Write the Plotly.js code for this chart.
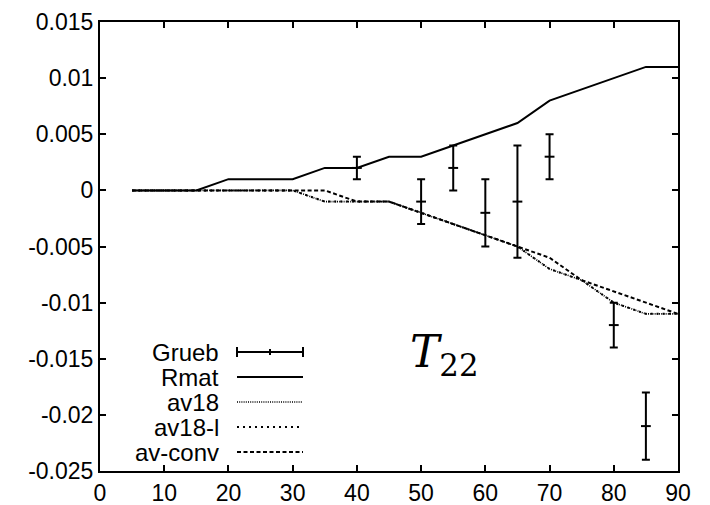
<!DOCTYPE html>
<html>
<head>
<meta charset="utf-8">
<script src="https://cdn.plot.ly/plotly-3.0.1.min.js"></script>
<style>html,body{margin:0;padding:0;background:#fff;}</style>
</head>
<body>
<div id="chart" style="width:710px;height:505px;"></div>
<script>
// Data
const gruebX = [40, 50, 55, 60, 65, 70, 80, 85];
const gruebY = [0.002, -0.001, 0.002, -0.002, -0.001, 0.003, -0.012, -0.021];
const gruebErr = [0.001, 0.002, 0.002, 0.003, 0.005, 0.002, 0.002, 0.003];

const rmatX = [5, 10, 15, 20, 25, 30, 35, 40, 45, 50, 55, 60, 65, 70, 75, 80, 85, 90];
const rmatY = [0, 0, 0, 0.001, 0.001, 0.001, 0.002, 0.002, 0.003, 0.003, 0.004, 0.005, 0.006, 0.008, 0.009, 0.010, 0.011, 0.011];

const av18X = [5, 10, 15, 20, 25, 30, 35, 40, 45, 50, 55, 60, 65, 70, 75, 80, 85, 90];
const av18Y = [0, 0, 0, 0, 0, 0, -0.001, -0.001, -0.001, -0.002, -0.003, -0.004, -0.005, -0.007, -0.008, -0.010, -0.011, -0.011];

const av18lX = [5, 10, 15, 20, 25, 30, 35, 40, 45, 50, 55, 60, 65, 70, 75, 80, 85, 90];
const av18lY = [0, 0, 0, 0, 0, 0, -0.001, -0.001, -0.001, -0.002, -0.003, -0.004, -0.005, -0.007, -0.008, -0.010, -0.011, -0.011];

const avconvX = [5, 10, 15, 20, 25, 30, 35, 40, 45, 50, 55, 60, 65, 70, 75, 80, 85, 90];
const avconvY = [0, 0, 0, 0, 0, 0, 0, -0.001, -0.001, -0.002, -0.003, -0.004, -0.005, -0.006, -0.008, -0.009, -0.010, -0.011];

const xTickVals = [0, 10, 20, 30, 40, 50, 60, 70, 80, 90];
const xTickText = ['0', '10', '20', '30', '40', '50', '60', '70', '80', '90'];
const yTickVals = [0.015, 0.01, 0.005, 0, -0.005, -0.01, -0.015, -0.02, -0.025];
const yTickText = ['0.015', '0.01', '0.005', '0', '-0.005', '-0.01', '-0.015', '-0.02', '-0.025'];

const legendNames = ['Grueb', 'Rmat', 'av18', 'av18-l', 'av-conv'];
const legendDash = [null, 'solid', '1px,1.2px', '2px,4px', '4px,2.5px'];
const legendWidth = [2, 2, 1.6, 2, 2];

const traces = [
  {x: rmatX, y: rmatY, mode: 'lines', name: 'Rmat', line: {color: '#000', width: 2, dash: 'solid'}},
  {x: av18X, y: av18Y, mode: 'lines', name: 'av18', line: {color: '#000', width: 1.6, dash: '1px,1.2px'}},
  {x: av18lX, y: av18lY, mode: 'lines', name: 'av18-l', line: {color: '#000', width: 2, dash: '2px,4px'}},
  {x: avconvX, y: avconvY, mode: 'lines', name: 'av-conv', line: {color: '#000', width: 2, dash: '4px,2.5px'}},
  {x: gruebX, y: gruebY, mode: 'markers', name: 'Grueb',
   marker: {symbol: 'line-ew', size: 7, color: '#000', line: {color: '#000', width: 2}},
   error_y: {type: 'data', array: gruebErr, visible: true, color: '#000', thickness: 2, width: 4}}
];

// custom legend (text right-aligned, key on the right, as in the reference)
const plotL = 100, plotR = 678, plotT = 22, plotB = 471;
const px2x = p => (p - plotL) / (plotR - plotL);
const py2y = p => (plotB - p) / (plotB - plotT);
const rows = [352, 377, 402, 427, 452];
const annotations = [];
const shapes = [];
legendNames.forEach((n, i) => {
  const yy = py2y(rows[i]);
  annotations.push({xref: 'paper', yref: 'paper', x: px2x(221), y: yy, text: n, showarrow: false,
    xanchor: 'right', yanchor: 'middle', font: {family: 'Liberation Sans, Arial, sans-serif', size: 24, color: '#000'}});
  if (i === 0) {
    shapes.push({type: 'line', xref: 'paper', yref: 'paper', x0: px2x(237), x1: px2x(303), y0: yy, y1: yy, line: {color: '#000', width: 2}});
    shapes.push({type: 'line', xref: 'paper', yref: 'paper', x0: px2x(237), x1: px2x(237), y0: py2y(rows[i] - 5), y1: py2y(rows[i] + 5), line: {color: '#000', width: 2}});
    shapes.push({type: 'line', xref: 'paper', yref: 'paper', x0: px2x(303), x1: px2x(303), y0: py2y(rows[i] - 5), y1: py2y(rows[i] + 5), line: {color: '#000', width: 2}});
    shapes.push({type: 'line', xref: 'paper', yref: 'paper', x0: px2x(270), x1: px2x(270), y0: py2y(rows[i] - 3), y1: py2y(rows[i] + 3), line: {color: '#000', width: 2}});
  } else {
    shapes.push({type: 'line', xref: 'paper', yref: 'paper', x0: px2x(237), x1: px2x(303), y0: yy, y1: yy,
      line: {color: '#000', width: legendWidth[i], dash: legendDash[i]}});
  }
});
annotations.push({xref: 'paper', yref: 'paper', x: px2x(444), y: py2y(354), text: '<i>T</i><sub>22</sub>',
  showarrow: false, xanchor: 'center', yanchor: 'middle',
  font: {family: 'DejaVu Serif, Liberation Serif, serif', size: 44, color: '#000'}});

const axisCommon = {
  showline: true, linecolor: '#000', linewidth: 2, mirror: 'ticks',
  ticks: 'inside', ticklen: 6, tickwidth: 2, tickcolor: '#000',
  showgrid: false, zeroline: false,
  tickfont: {family: 'Liberation Sans, Arial, sans-serif', size: 23, color: '#000'}
};

const layout = {
  width: 710, height: 505,
  margin: {l: plotL, r: 710 - plotR, t: plotT, b: 505 - plotB, pad: 0},
  paper_bgcolor: '#fff', plot_bgcolor: '#fff',
  showlegend: false,
  xaxis: Object.assign({}, axisCommon, {range: [0, 90], tickmode: 'array', tickvals: xTickVals, ticktext: xTickText}),
  yaxis: Object.assign({}, axisCommon, {range: [-0.025, 0.015], tickmode: 'array', tickvals: yTickVals, ticktext: yTickText}),
  annotations: annotations,
  shapes: shapes
};

Plotly.newPlot('chart', traces, layout, {displayModeBar: false, staticPlot: true});
</script>
</body>
</html>
